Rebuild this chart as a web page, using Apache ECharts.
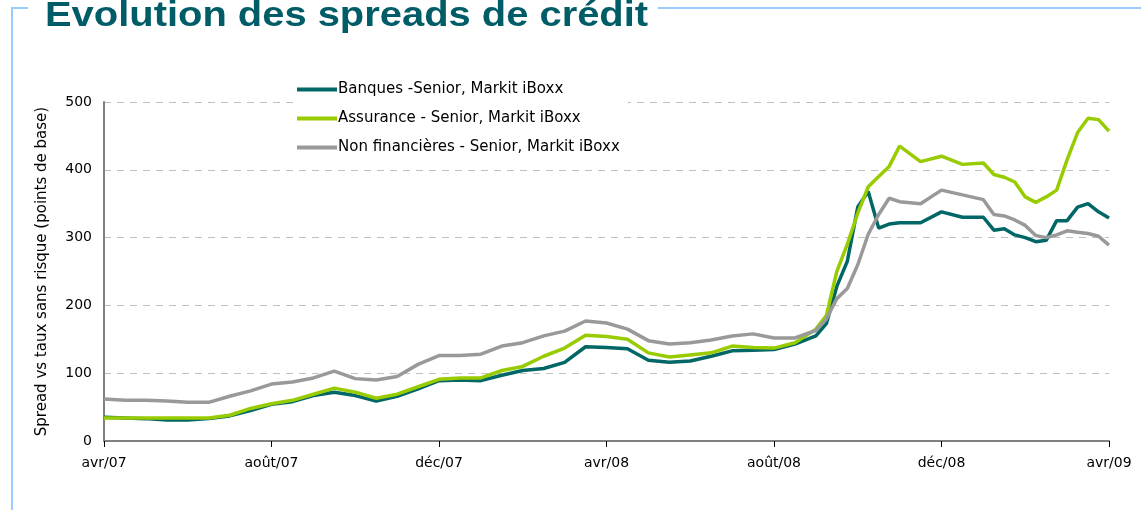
<!DOCTYPE html>
<html>
<head>
<meta charset="utf-8">
<script src="https://cdn.jsdelivr.net/npm/echarts@6/dist/echarts.min.js"></script>
<style>
  html, body { margin: 0; padding: 0; background: #fff; }
  #chart { width: 1141px; height: 510px; }
</style>
</head>
<body>
<div id="chart"></div>
<script>
// mois depuis avr/07
const months = [0, 0.5, 1, 1.5, 2, 2.5, 3, 3.5, 4, 4.5, 5, 5.5, 6, 6.5, 7, 7.5, 8, 8.5, 9, 9.5,
  10, 10.5, 11, 11.5, 12, 12.5, 13, 13.5, 14, 14.5, 15, 15.5, 16, 16.5, 17, 17.25, 17.5, 17.75,
  18, 18.25, 18.5, 18.75, 19, 19.5, 20, 20.5, 21, 21.25, 21.5, 21.75, 22, 22.25, 22.5, 22.75,
  23, 23.25, 23.5, 23.75, 24];
const tickLabels = ['avr/07', 'août/07', 'déc/07', 'avr/08', 'août/08', 'déc/08', 'avr/09'];

const banques = [35, 34, 33, 31, 31, 33, 37, 45, 54, 58, 67, 72, 67, 59, 66, 77, 89, 90, 89, 97,
  104, 107, 116, 139, 138, 136, 119, 116, 118, 125, 133, 134, 135, 143, 155, 173, 228, 265,
  345, 368, 314, 320, 322, 322, 338, 330, 330, 311, 313, 304, 300, 294, 296, 325,
  325, 345, 350, 338, 329];
const assurance = [34, 34, 34, 34, 34, 34, 38, 48, 55, 60, 69, 78, 72, 63, 69, 80, 91, 93, 93, 104,
  110, 125, 137, 156, 154, 150, 130, 124, 127, 130, 140, 138, 137, 145, 165, 185, 250, 290,
  336, 375, 390, 405, 435, 412, 420, 408, 410, 393, 389, 382, 360, 352, 360, 370,
  415, 455, 476, 474, 457];
const nonFin = [62, 60, 60, 59, 57, 57, 66, 74, 84, 87, 93, 103, 92, 90, 95, 113, 126, 126, 128, 140,
  145, 155, 162, 177, 174, 165, 148, 143, 145, 149, 155, 158, 152, 152, 163, 180, 210, 225,
  260, 305, 334, 358, 353, 350, 370, 363, 356, 334, 332, 326, 318, 303, 300, 304,
  310, 308, 306, 302, 289];

const names = [
  'Banques -Senior, Markit iBoxx',
  'Assurance - Senior, Markit iBoxx',
  'Non financières - Senior, Markit iBoxx'
];
const colorMap = {
  'Banques -Senior, Markit iBoxx': '#006666',
  'Assurance - Senior, Markit iBoxx': '#99cc00',
  'Non financières - Senior, Markit iBoxx': '#999999'
};
const seriesValues = [banques, assurance, nonFin];

const titleFont = 'Liberation Sans, Arial, sans-serif';
const font = 'DejaVu Sans, sans-serif';
const decoColor = '#99ccff';

let myChart = echarts.init(document.getElementById('chart'));

const seriesList = names.map((name, i) => ({
  name,
  type: 'line',
  showSymbol: false,
  smooth: false,
  lineStyle: { width: 3.5, color: colorMap[name] },
  itemStyle: { color: colorMap[name] },
  data: months.map((m, j) => [m, seriesValues[i][j]])
}));

let option = {
  animation: false,
  graphic: [
    { type: 'polyline', shape: { points: [[28, 8], [12, 8], [12, 510]] },
      style: { stroke: decoColor, lineWidth: 2, fill: null } },
    { type: 'line', shape: { x1: 658, y1: 8, x2: 1141, y2: 8 },
      style: { stroke: decoColor, lineWidth: 2 } },
    // titre un peu étiré en largeur comme sur l'original
    { type: 'text', x: 45, y: 16, scaleX: 1.14, z: 10,
      style: {
        text: 'Evolution des spreads de crédit',
        fontFamily: titleFont, fontWeight: 'bold', fontSize: 35,
        fill: '#005c66', verticalAlign: 'middle', align: 'left'
      } }
  ],
  legend: {
    data: names,
    orient: 'vertical',
    left: 293,
    top: 78,
    padding: [4, 8, 8, 4],
    backgroundColor: '#fff',
    itemWidth: 40,
    itemHeight: 4,
    itemGap: 14,
    icon: 'rect',
    textStyle: { fontFamily: font, fontSize: 15, color: '#000', padding: [0, 0, 0, -4] }
  },
  grid: { left: 104, right: 32, top: 102, bottom: 69 },
  xAxis: {
    type: 'value',
    min: 0,
    max: 24,
    interval: 4,
    splitLine: { show: false },
    axisLine: { lineStyle: { color: '#808080', width: 2 } },
    axisTick: { show: true, length: 6, lineStyle: { color: '#000' } },
    axisLabel: {
      margin: 15,
      fontFamily: font,
      fontSize: 14,
      color: '#000',
      formatter: v => tickLabels[v / 4]
    }
  },
  yAxis: {
    type: 'value',
    min: 0,
    max: 500,
    interval: 100,
    name: 'Spread vs taux sans risque (points de base)',
    nameLocation: 'middle',
    nameGap: 54,
    nameTextStyle: { fontFamily: font, fontSize: 15, color: '#000' },
    axisLine: { show: true, lineStyle: { color: '#808080', width: 2 } },
    axisTick: { show: false },
    axisLabel: { margin: 12, fontFamily: font, fontSize: 14, color: '#000' },
    splitLine: { lineStyle: { type: [7, 6], color: '#c0c0c0', width: 1 } }
  },
  series: seriesList
};
myChart.setOption(option);
</script>
</body>
</html>
